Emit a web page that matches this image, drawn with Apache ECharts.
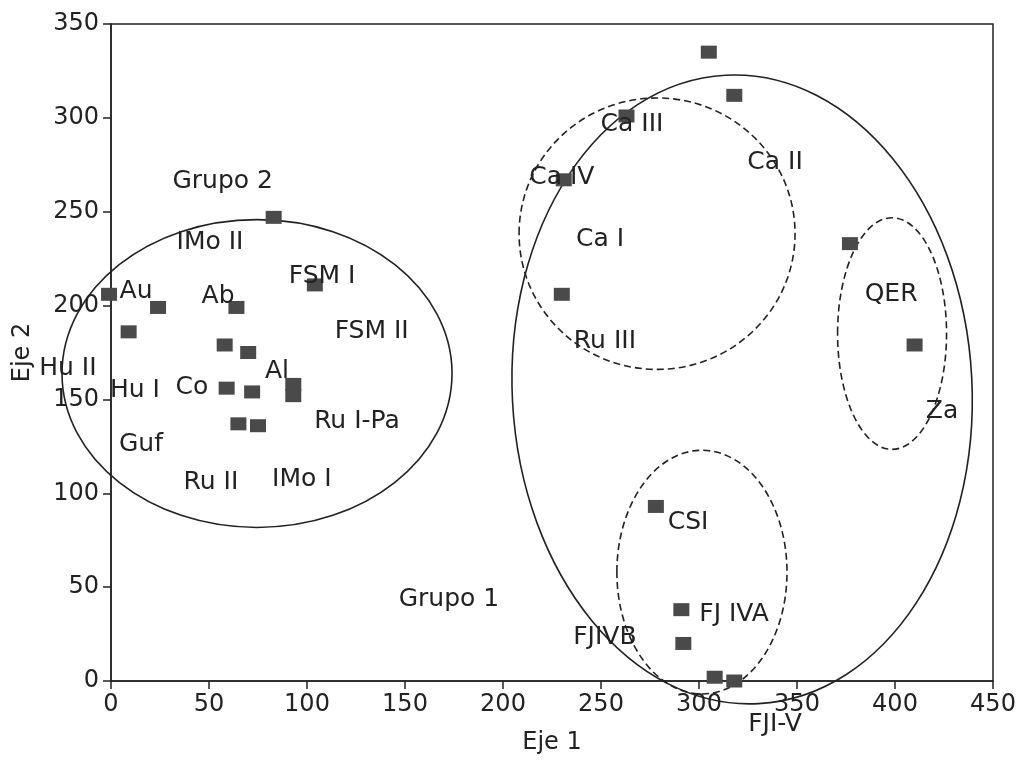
<!DOCTYPE html>
<html>
<head>
<meta charset="utf-8">
<script src="https://cdn.jsdelivr.net/npm/echarts@6.0.0/dist/echarts.min.js"></script>
<style>
html, body { margin: 0; padding: 0; background: #fff; }
#chart { width: 1030px; height: 760px; }
</style>
</head>
<body>
<div id="chart"></div>
<script>
// square markers (Eje 1, Eje 2)
const pointX = [83, -1, 24, 64, 104, 9, 58, 70, 59, 72, 93, 93, 65, 75,
  305, 318, 263, 231, 230, 377, 410, 278, 291, 292, 308, 318]
const pointY = [247, 206, 199, 199, 211, 186, 179, 175, 156, 154, 158, 152, 137, 136,
  335, 312, 301, 267, 206, 233, 179, 93, 38, 20, 2, 0]

// text labels placed in data space
const labelNames = ['Grupo 2', 'IMo II', 'FSM I', 'FSM II', 'Au', 'Ab', 'Hu II', 'Hu I', 'Co', 'Al',
  'Ru I-Pa', 'Guf', 'Ru II', 'IMo I', 'Grupo 1', 'Ca III', 'Ca IV', 'Ca II', 'Ca I', 'Ru III',
  'QER', 'Za', 'CSI', 'FJ IVA', 'FJIVB', 'FJI-V']
const labelX = [57, 50.5, 107.7, 133, 12.8, 54.6, -22, 12.2, 41.3, 84.7,
  125.5, 15.3, 51, 97.4, 172.4, 265.8, 230, 338.8, 249.5, 252,
  398, 424, 294.4, 317.9, 252, 338.8]
const labelY = [266, 233.5, 215.4, 186, 207.4, 204.8, 166.5, 155, 156.4, 165,
  138.3, 126, 105.9, 107.4, 43.6, 296.3, 268, 276, 235, 181,
  205.9, 143.6, 84.6, 35.6, 23.4, -23.4]

// group ellipses: centre, radii (data units), rotation (deg), dashed flag
const ellipseCx = [74.5, 322, 278.6, 398.5, 301.5]
const ellipseCy = [163.8, 155.3, 238.3, 185.1, 58]
const ellipseRx = [99.5, 117.3, 70.4, 27.8, 43.4]
const ellipseRy = [82, 167.6, 72.3, 61.7, 64.9]
const ellipseRot = [0, 3, 0, 0, 0]
const ellipseDash = [0, 0, 1, 1, 1]

const font = 'DejaVu Sans'
const ink = '#222'

const chart = echarts.init(document.getElementById('chart'))

const axisCommon = {
  type: 'value',
  interval: 50,
  splitLine: { show: false },
  axisLine: { show: true, lineStyle: { color: ink, width: 1.5 } },
  axisTick: { show: true, length: 8, lineStyle: { color: ink, width: 1.5 } },
  axisLabel: { color: ink, fontSize: 24, fontFamily: font, margin: 12 },
  nameLocation: 'middle',
  nameTextStyle: { color: ink, fontSize: 24, fontFamily: font }
}

chart.setOption({
  animation: false,
  backgroundColor: '#fff',
  grid: {
    left: 111, right: 37, top: 24, bottom: 78,
    show: true, borderColor: ink, borderWidth: 1.5
  },
  xAxis: Object.assign({}, axisCommon, { min: 0, max: 450, name: 'Eje 1', nameGap: 50 }),
  yAxis: Object.assign({}, axisCommon, { min: 0, max: 350, name: 'Eje 2', nameGap: 76 }),
  series: [
    {
      type: 'custom',
      silent: true,
      clip: false,
      encode: { x: 0, y: 1 },
      data: ellipseCx.map((cx, i) => [cx, ellipseCy[i], ellipseRx[i], ellipseRy[i], ellipseRot[i], ellipseDash[i]]),
      renderItem: function (params, api) {
        const c = api.coord([api.value(0), api.value(1)])
        const s = api.size([api.value(2), api.value(3)])
        return {
          type: 'ellipse',
          x: c[0],
          y: c[1],
          rotation: api.value(4) * Math.PI / 180,
          shape: { cx: 0, cy: 0, rx: s[0], ry: s[1] },
          style: {
            fill: 'none',
            stroke: ink,
            lineWidth: 1.6,
            lineDash: api.value(5) === 1 ? [7, 4] : null
          }
        }
      }
    },
    {
      type: 'scatter',
      silent: true,
      clip: false,
      symbolSize: 0,
      itemStyle: { opacity: 1 },
      data: labelNames.map((n, i) => ({ name: n, value: [labelX[i], labelY[i]] })),
      label: {
        show: true,
        position: 'inside',
        formatter: '{b}',
        color: ink,
        fontSize: 25,
        fontFamily: font
      }
    },
    {
      type: 'scatter',
      silent: true,
      clip: false,
      symbol: 'rect',
      symbolSize: [16, 13],
      itemStyle: { color: '#4a4a4a', opacity: 1 },
      data: pointX.map((x, i) => [x, pointY[i]])
    }
  ]
})
</script>
</body>
</html>
